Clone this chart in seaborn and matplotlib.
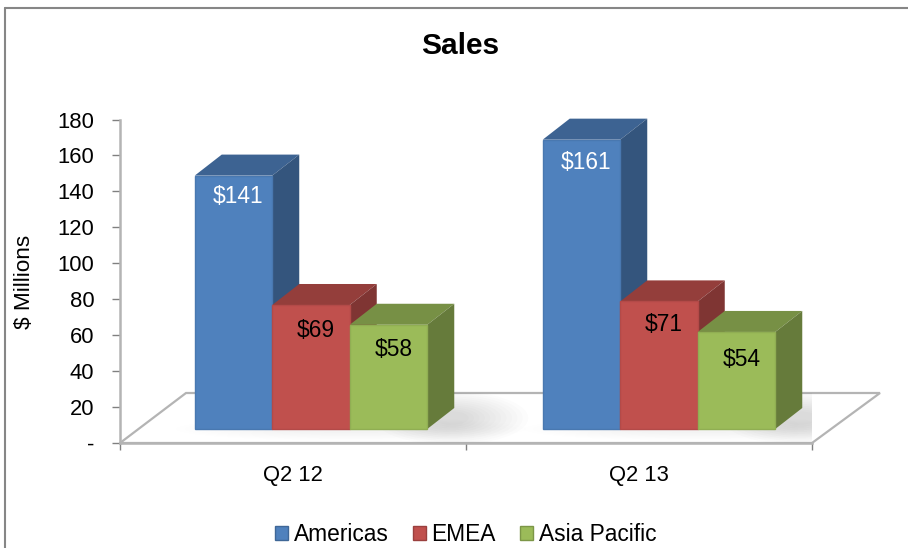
# Sales by region, fake 3D clustered columns

import matplotlib
matplotlib.use('Agg')
import matplotlib.pyplot as plt
import matplotlib.transforms as mtransforms
from matplotlib.lines import Line2D
from matplotlib.patches import Ellipse, Polygon
import pandas as pd
import seaborn as sns

# Data
quarters = ['Q2 12', 'Q2 13']
regions = ['Americas', 'EMEA', 'Asia Pacific']
americas = [141, 161]
emea = [69, 71]
asia_pacific = [58, 54]
y_ticks = [0, 20, 40, 60, 80, 100, 120, 140, 160, 180]
y_tick_labels = ['-', '20', '40', '60', '80', '100', '120', '140', '160', '180']
colors = ['#4F81BD', '#C0504D', '#9BBB59']

df = pd.DataFrame({
	'Quarter': quarters * 3,
	'Region': [r for r in regions for _ in quarters],
	'Sales': americas + emea + asia_pacific,
})

sns.set_theme(style='white')
plt.rcParams['font.family'] = ['Liberation Sans', 'DejaVu Sans']

W, H = 908, 548
fig = plt.figure(figsize=(W / 100, H / 100), dpi=100, facecolor='white')
ax = fig.add_axes([120 / W, (H - 443) / H, 692 / W, 323.5 / H])
ax.patch.set_alpha(0)

sns.barplot(
	data=df, x='Quarter', y='Sales', hue='Region',
	order=quarters, hue_order=regions, palette=colors,
	width=0.672, saturation=1, errorbar=None, ax=ax, legend=True,
)
bars = sorted([p for p in ax.patches if p.get_height() > 0], key=lambda p: p.get_x())
ax.set_xlim(-0.5, 1.5)
ax.set_ylim(0, 180)

# one pixel in data units
px_x = 2 / 692
px_y = 180 / 323.5


def shade(color, f):
	return tuple(c * f for c in color[:3])


# floor of the 3D box
floor_pts = [
	(-0.5, 0),
	(-0.5 + 66 * px_x, 50 * px_y),
	(1.5 + 68 * px_x, 50 * px_y),
	(1.5, 0),
]
floor = Polygon(floor_pts, closed=True, facecolor='white', edgecolor='#B4B4B4',
	lw=1.6, zorder=0.5, clip_on=False)
ax.add_patch(floor)

# bars stand a little behind the front edge of the floor
shifts = [
	mtransforms.offset_copy(ax.transData, fig=fig, x=18, y=14, units='dots'),
	mtransforms.offset_copy(ax.transData, fig=fig, x=20, y=14, units='dots'),
]
depth_x = 27 * px_x
depth_y = 21 * px_y

# soft shadow on the floor around each cluster
for g, group in enumerate([bars[:3], bars[3:]]):
	x0 = group[0].get_x()
	x1 = group[-1].get_x() + group[-1].get_width()
	xm = (x0 + x1) / 2
	for i in range(12):
		k = (i + 1) / 12
		blob = Ellipse((x1 + 24 * px_x, 11 * px_y), (24 + 130 * k) * px_x, (10 + 44 * k) * px_y,
			facecolor='black', edgecolor='none', alpha=0.011, zorder=0.6, transform=shifts[g])
		ax.add_patch(blob)
		blob.set_clip_path(floor)
		band = Ellipse((xm + 40 * px_x, 0), (150 + 200 * k) * px_x, (6 + 18 * k) * px_y,
			facecolor='black', edgecolor='none', alpha=0.004, zorder=0.6, transform=shifts[g])
		ax.add_patch(band)
		band.set_clip_path(floor)

label_dy = [-21, -26, -25, -23, -23, -28]

for i, bar in enumerate(bars):
	shift = shifts[i // 3]
	x = bar.get_x()
	w = bar.get_width()
	h = bar.get_height()
	c = bar.get_facecolor()
	z = 2 + i * 0.1
	bar.set_transform(shift)
	bar.set_edgecolor(shade(c, 0.93))
	bar.set_linewidth(1)
	bar.set_zorder(z + 0.02)
	bar.set_clip_on(False)
	top = Polygon([(x, h), (x + w, h), (x + w + depth_x, h + depth_y), (x + depth_x, h + depth_y)],
		closed=True, facecolor=shade(c, 0.77), edgecolor='none', transform=shift, zorder=z, clip_on=False)
	side = Polygon([(x + w, 0), (x + w + depth_x, depth_y), (x + w + depth_x, h + depth_y), (x + w, h)],
		closed=True, facecolor=shade(c, 0.66), edgecolor='none', transform=shift, zorder=z, clip_on=False)
	ax.add_patch(top)
	ax.add_patch(side)
	is_blue = i % 3 == 0
	ax.annotate(
		f'${h:.0f}', (x + w / 2, h), xycoords=shift, xytext=(5, label_dy[i]),
		textcoords='offset pixels', ha='center', va='center', fontsize=16.4,
		color='white' if is_blue else 'black', zorder=5,
	)

# axes
sns.despine(ax=ax, top=True, right=True)
for s in ['left', 'bottom']:
	ax.spines[s].set_color('#B4B4B4')
	ax.spines[s].set_linewidth(1.8)
	ax.spines[s].set_zorder(1)
ax.set_yticks(y_ticks)
ax.set_yticklabels(y_tick_labels)
ax.set_xticks([0, 1])
ax.set_xticklabels(quarters)
ax.set_xticks([-0.5, 0.5, 1.5], minor=True)
ax.tick_params(axis='y', left=True, length=5.5, width=1, color='#808080', labelsize=15.8,
	labelcolor='black', pad=13)
ax.tick_params(axis='x', which='major', bottom=False, labelsize=15.8, labelcolor='black', pad=10)
ax.tick_params(axis='x', which='minor', bottom=True, length=5, width=1, color='#808080')
ax.set_xlabel('')
ax.set_ylabel('')
fig.text(25 / W, 1 - 282 / H, '$ Millions', rotation=90, ha='center', va='center', fontsize=16.2, color='black')
fig.text(460 / W, 1 - 46 / H, 'Sales', ha='center', va='center', fontsize=21.5, fontweight='bold', color='black')

# legend along the bottom edge
handles, labels = ax.get_legend_handles_labels()
ax.get_legend().remove()
leg = fig.legend(
	handles, labels, ncols=3, loc='center', bbox_to_anchor=(465.5 / W, 1 - 534.5 / H),
	frameon=False, fontsize=16.4, handlelength=0.58, handleheight=0.58,
	handletextpad=0.25, columnspacing=1.05, borderpad=0, labelcolor='black',
)
for h, c in zip(leg.legend_handles, colors):
	h.set_edgecolor(shade(matplotlib.colors.to_rgb(c), 0.8))
	h.set_linewidth(1)

# chart frame: top and left only, the rest is cut off
frame = '#868686'
fig.add_artist(Line2D([5 / W, 5 / W], [0, 1 - 8 / H], color=frame, lw=1.5))
fig.add_artist(Line2D([5 / W, 1], [1 - 8 / H, 1 - 8 / H], color=frame, lw=1.5))

fig.savefig('out.png', dpi=100)
